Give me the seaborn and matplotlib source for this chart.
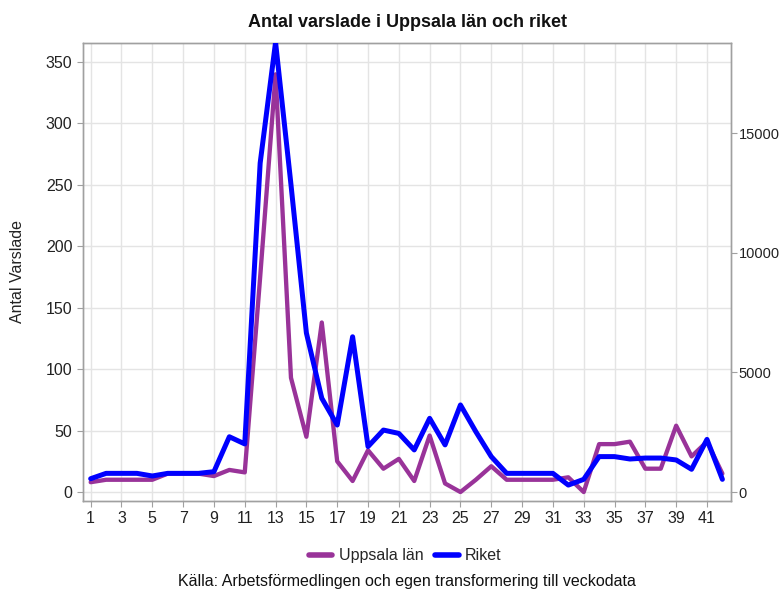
import matplotlib
matplotlib.use("Agg")
import matplotlib.pyplot as plt
import seaborn as sns
from matplotlib.lines import Line2D

# veckonummer
weeks = list(range(1, 43))

# Uppsala län (vänster axel)
uppsala = [8, 10, 10, 10, 10, 15, 15, 15, 13, 18, 16, 175, 340, 93, 45, 138, 25, 9, 34, 19,
           27, 9, 46, 7, 0, 10, 21, 10, 10, 10, 10, 12, 0, 39, 39, 41, 19, 19, 54, 29,
           41, 15]

# Riket (höger axel)
riket = [556, 780, 780, 780, 670, 780, 780, 780, 850, 2310, 2010, 13750, 18800, 12850, 6650, 3920,
         2800, 6490, 1900, 2590, 2450, 1760, 3080, 1970, 3640, 2520, 1480, 780, 780, 780,
         780, 290, 530, 1480, 1480, 1380, 1420, 1420, 1340, 950, 2200, 530]

left_ticks = [0, 50, 100, 150, 200, 250, 300, 350]
right_ticks = [0, 5000, 10000, 15000]
x_ticks = list(range(1, 42, 2))

purple = "#993399"
blue = "#0000FF"
edge = "#a0a0a0"
fs = 11.5

sns.set_style("white")
plt.rcParams["font.family"] = ["Liberation Sans", "DejaVu Sans"]

fig = plt.figure(figsize=(7.82, 5.92), dpi=100)
ax = fig.add_axes([0.1061, 0.1537, 0.8287, 0.7737])

sns.lineplot(x=weeks, y=uppsala, ax=ax, color=purple, linewidth=3.1, zorder=3)
ax.set_xlim(0.5, 42.56)
ax.set_ylim(-7.3, 365.5)
ax.set_xticks(x_ticks)
ax.set_yticks(left_ticks)
ax.grid(True, color="#e4e4e4", linewidth=1.0)
ax.set_axisbelow(True)
ax.set_ylabel("Antal Varslade", fontsize=fs, color="#222222")
ax.yaxis.set_label_coords(-0.0887, 0.5)
ax.set_xlabel("")
ax.tick_params(axis="both", labelsize=fs, colors="#222222", length=4, width=0.8,
               color=edge, direction="out", bottom=True, left=True)

ax2 = ax.twinx()
sns.lineplot(x=weeks, y=riket, ax=ax2, color=blue, linewidth=3.6, zorder=4)
ax2.set_ylim(-376, 18771)
ax2.set_yticks(right_ticks)
ax2.set_ylabel("")
ax2.grid(False)
ax2.tick_params(axis="y", labelsize=10.5, colors="#222222", length=4, width=0.8,
                color=edge, direction="out", right=True, pad=1.5)

for a in (ax, ax2):
    for s in a.spines.values():
        s.set_color(edge)
        s.set_linewidth(1.0)

fig.text(0.521, 0.962, "Antal varslade i Uppsala län och riket", ha="center", va="center",
         fontsize=13, fontweight="bold", color="#111111")

handles = [Line2D([], [], color=purple, linewidth=4),
           Line2D([], [], color=blue, linewidth=4)]
fig.legend(handles, ["Uppsala län", "Riket"], loc="center", bbox_to_anchor=(0.518, 0.061),
           ncol=2, frameon=False, fontsize=fs, handlelength=1.5, columnspacing=0.7,
           handletextpad=0.4)

fig.text(0.521, 0.018, "Källa: Arbetsförmedlingen och egen transformering till veckodata",
         ha="center", va="center", fontsize=fs, color="#111111")

fig.savefig("out.png", dpi=100)
